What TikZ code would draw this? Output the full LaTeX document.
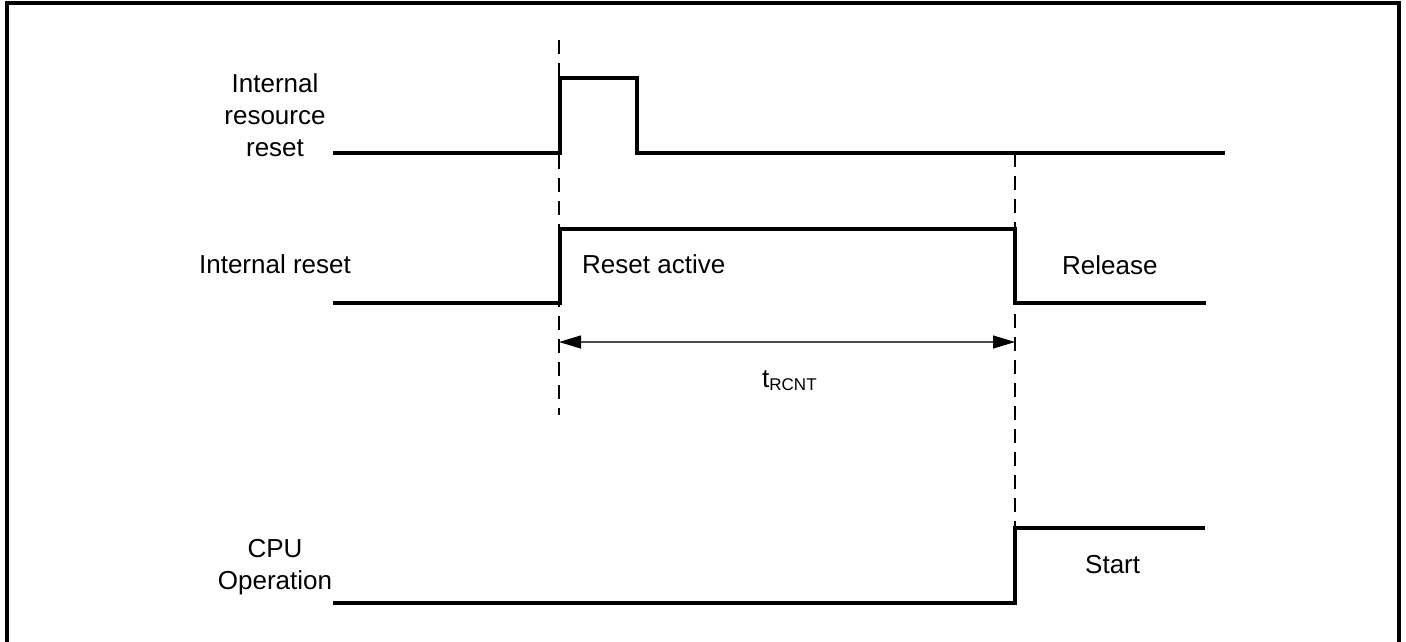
\documentclass[tikz,border=0pt]{standalone}
\usepackage{fontspec}
\setmainfont{Liberation Sans}
\usepackage{tikz}
\usetikzlibrary{
  arrows.meta,
  positioning,
  calc
}
\newcommand{\tsub}[1]{t\raisebox{-3pt}{\fontsize{17}{17}\selectfont #1}}

\begin{document}
\begin{tikzpicture}[
      x=1pt, y=-1pt,
      every node/.style={font=\fontsize{26}{32}\selectfont, inner sep=0pt},
      rotulo/.style={anchor=base, align=center},
      texto/.style={anchor=base west},
      sinal/.style={line width=3.2pt, line join=miter},
      guia/.style={line width=1.9pt, dash pattern=on 14pt off 9pt},
      cota/.style={{Triangle[length=22pt, width=13pt, color=black]}-{Triangle[length=22pt, width=13pt, color=black]}, line width=1.2pt, black!70}
  ]
      \useasboundingbox (0,0) rectangle (1406,641);
      \draw[line width=3.2pt] (7,3) rectangle (1399,660);

      % Pontos de transicao
      \coordinate (t0) at (559,40);
      \coordinate (t0b) at (559,415);
      \coordinate (t1) at (1015,153);
      \coordinate (t1b) at (1015,528);

      % Linhas guia
      \draw[guia] (t0) -- (t0b);
      \draw[guia] (t1) -- (t1b);

      % Formas de onda
      \draw[sinal] (333,153) -- (560,153) -- (560,78) -- (637,78) -- (637,153) -- (1225,153);
      \draw[sinal] (333,303) -- (560,303) -- (560,229) -- (1015,229) -- (1015,303) -- (1206,303);
      \draw[sinal] (333,603) -- (1015,603) -- (1015,528) -- (1205,528);

      % Intervalo
      \coordinate (ca) at (559,342);
      \coordinate (cb) at (1015,342);
      \draw[cota] (ca) -- (cb);
      \node[texto] (trcnt) at (762,387) {\tsub{RCNT}};

      % Rotulos dos sinais
      \node[rotulo] (irr) at (275,156) {Internal\\resource\\reset};
      \node[rotulo] (ir) at (275,273) {Internal reset};
      \node[rotulo] (cpu) at (275,589) {CPU\\Operation};

      % Estados
      \node[texto] (ativo) at (582,273) {Reset active};
      \node[texto] (lib) at (1062,274) {Release};
      \node[texto] (ini) at (1085,573) {Start};
  \end{tikzpicture}
\end{document}
